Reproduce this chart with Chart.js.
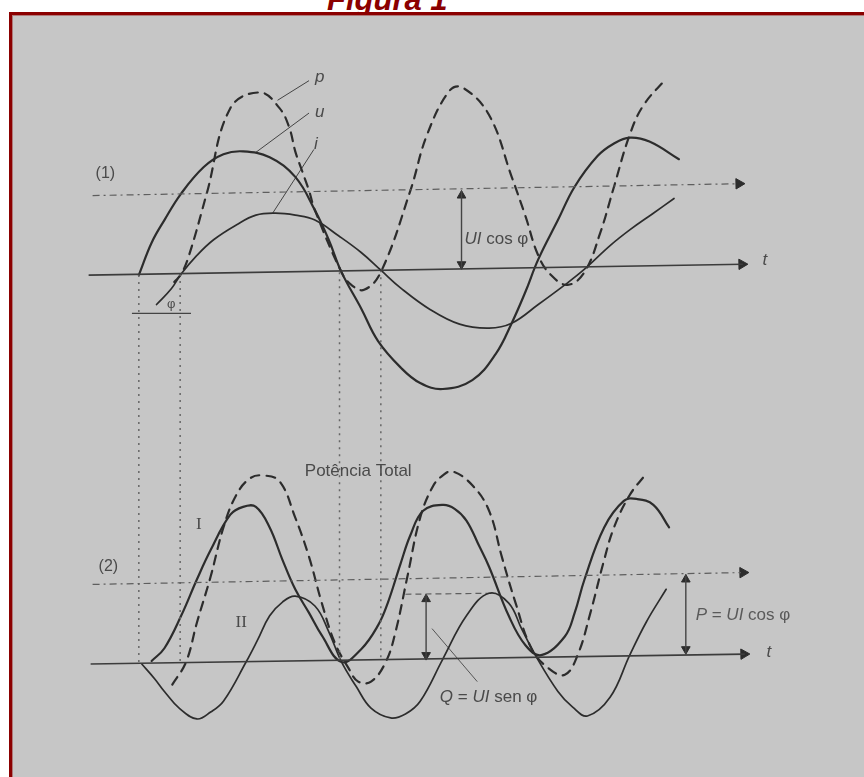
<!DOCTYPE html>
<html>
<head>
<meta charset="utf-8">
<script src="https://cdn.jsdelivr.net/npm/chart.js@4.4.1/dist/chart.umd.min.js"></script>
<style>
  html, body { margin: 0; padding: 0; background: #fff; overflow: hidden; width: 864px; height: 777px; }
  #title { position: absolute; left: 327px; top: -15px; font: italic bold 31px "Liberation Sans", Arial, sans-serif;
           line-height: 30px; color: #8b0000; white-space: nowrap; z-index: 0; }
  #frame { position: absolute; left: 9px; top: 12px; width: 900px; height: 800px;
           border-left: 3px solid #8b0000; border-top: 3px solid #8b0000; background: #c6c6c6;
           box-shadow: inset 1px 1px 0 #b07a7a; z-index: 1; }
  #wrap { position: absolute; left: 0; top: 0; width: 864px; height: 777px; z-index: 2; }
</style>
</head>
<body>
<div id="title">Figura 1</div>
<div id="frame"></div>
<div id="wrap"><canvas id="chart" width="864" height="777"></canvas></div>
<script>
// (1) voltage u, current i and instantaneous power p
const U_T = [134, 147, 160, 177, 200, 220, 240, 267, 293, 313, 327, 340, 360, 377, 400, 420, 443, 473, 497, 513, 527, 540, 560, 577, 600, 617, 633, 653, 683];
const U_V = [-3, 30, 53, 80, 107, 120, 123, 117, 97, 63, 33, 0, -37, -70, -97, -113, -119, -110, -83, -52, -20, 13, 53, 87, 118, 131, 137, 133, 115];

const I_T = [152, 167, 177, 193, 210, 233, 253, 273, 293, 313, 337, 360, 380, 400, 430, 460, 490, 513, 540, 567, 587, 613, 633, 657, 678];
const I_V = [-33, -17, -2, 17, 33, 48, 58, 60, 58, 53, 37, 20, 2, -16, -38, -53, -57, -52, -33, -13, 3, 27, 43, 60, 75];

const P_T = [170, 177, 185, 203, 227, 257, 277, 287, 293, 300, 307, 313, 340, 350, 363, 380, 410, 427, 450, 463, 490, 513, 527, 540, 553, 570, 587, 603, 617, 633, 647, 670];
const P_V = [-10, -2, 17, 80, 167, 183, 167, 147, 123, 103, 83, 63, 0, -13, -18, 0, 83, 140, 185, 188, 160, 97, 57, 17, -3, -13, 0, 40, 87, 140, 170, 197];

// (2) active part I, reactive part II and total power
const A_T = [147, 160, 177, 193, 207, 227, 240, 253, 267, 280, 293, 307, 320, 340, 360, 377, 387, 400, 410, 423, 443, 455, 467, 480, 490, 510, 527, 543, 567, 577, 587, 607, 627, 640, 657, 673];
const A_V = [0, 13, 46, 83, 113, 149, 157, 157, 136, 103, 73, 49, 26, -1, 12, 36, 59, 99, 128, 153, 159, 155, 143, 117, 96, 46, 16, 6, 25, 49, 83, 136, 163, 165, 159, 136];

const R_T = [137, 150, 160, 175, 193, 207, 220, 243, 255, 267, 280, 293, 313, 327, 340, 355, 370, 390, 405, 420, 443, 467, 490, 510, 523, 537, 560, 575, 590, 613, 633, 650, 670];
const R_V = [-3, -18, -31, -48, -59, -52, -41, -1, 22, 46, 60, 66, 56, 30, -1, -26, -48, -58, -54, -41, 2, 46, 69, 59, 33, 6, -31, -47, -56, -37, 6, 40, 73];

const S_T = [168, 182, 193, 207, 220, 233, 247, 260, 277, 293, 307, 320, 333, 347, 357, 370, 385, 395, 407, 420, 433, 443, 453, 473, 490, 503, 517, 533, 550, 567, 580, 593, 607, 617, 633, 650];
const S_V = [-24, -1, 39, 86, 136, 169, 186, 189, 183, 146, 106, 59, 19, -7, -21, -21, -1, 30, 86, 146, 178, 189, 193, 179, 153, 106, 59, 13, -7, -14, 6, 49, 103, 136, 169, 191];

// mean levels and the time instants marked by dotted lines
const MEAN_1 = [78, 90];
const MEAN_2 = [78, 90];
const Q_LEVEL = 68;
const MARK_T = [134, 176, 338, 380];

const INK = '#2c2c2c';
const GREY = '#5e5e5e';
const TEXT = '#4a4a4a';
const SANS = '"Liberation Sans", Arial, sans-serif';
const SERIF = '"Liberation Serif", "DejaVu Serif", serif';

const zip = (ts, vs) => ts.map((t, k) => ({ x: t, y: vs[k] }));

const curve = (ts, vs, axis, width, dash) => ({
  data: zip(ts, vs), yAxisID: axis, borderColor: INK, borderWidth: width,
  borderDash: dash || [], pointRadius: 0, tension: 0.4, fill: false,
  borderCapStyle: 'round', borderJoinStyle: 'round',
});

const seg = (pts, axis, width, color, dash) => ({
  data: pts.map(p => ({ x: p[0], y: p[1] })), yAxisID: axis, borderColor: color,
  borderWidth: width, borderDash: dash || [], pointRadius: 0, tension: 0, fill: false,
});

const head = (t, v, axis, rot, r) => ({
  data: [{ x: t, y: v }], yAxisID: axis, showLine: false, pointStyle: 'triangle',
  rotation: rot, pointRadius: r, backgroundColor: INK, borderColor: INK, borderWidth: 1,
});

const datasets = [
  // axes and mean levels
  seg([[83, -3], [748, 8]], 'y1', 1.6, '#3c3c3c'),
  head(747, 8, 'y1', 89, 6),
  seg([[87, MEAN_1[0]], [742, MEAN_1[1]]], 'y1', 1.2, GREY, [7, 4, 2, 4]),
  head(744, MEAN_1[1], 'y1', 89, 6),
  seg([[85, -3], [750, 7]], 'y2', 1.6, '#3c3c3c'),
  head(749, 7, 'y2', 89, 6),
  seg([[87, MEAN_2[0]], [746, MEAN_2[1]]], 'y2', 1.2, GREY, [7, 4, 2, 4]),
  head(748, MEAN_2[1], 'y2', 89, 6),
  // dotted instants from (1) down to (2)
  seg([[MARK_T[0], -3], [MARK_T[0], -399]], 'y1', 1.5, '#666', [2, 5]),
  seg([[MARK_T[1], -2], [MARK_T[1], -399]], 'y1', 1.5, '#666', [2, 5]),
  seg([[MARK_T[2], 0], [MARK_T[2], -397]], 'y1', 1.5, '#666', [2, 5]),
  seg([[MARK_T[3], 2], [MARK_T[3], -394]], 'y1', 1.5, '#666', [2, 5]),
  // curves (1)
  curve(P_T, P_V, 'y1', 2.2, [9, 7]),
  curve(U_T, U_V, 'y1', 2.2),
  curve(I_T, I_V, 'y1', 1.7),
  // curves (2)
  curve(S_T, S_V, 'y2', 2.2, [9, 7]),
  curve(A_T, A_V, 'y2', 2.2),
  curve(R_T, R_V, 'y2', 1.7),
  // leaders, phi bar
  seg([[275, 175], [307, 195]], 'y1', 1, '#444'),
  seg([[253, 122], [307, 162]], 'y1', 1, '#444'),
  seg([[270, 60], [312, 125]], 'y1', 1, '#444'),
  seg([[127, -42], [187, -42]], 'y1', 1.4, '#444'),
  seg([[432, 33], [478, -21]], 'y2', 1, '#555'),
  // UI cos phi, Q and P arrows
  seg([[462, 83], [462, 3]], 'y1', 1.4, '#444'),
  head(462, 78, 'y1', 0, 5),
  head(462, 8, 'y1', 180, 5),
  seg([[405, Q_LEVEL], [497, Q_LEVEL + 1]], 'y2', 1.2, GREY, [6, 4]),
  seg([[426, Q_LEVEL], [426, 1]], 'y2', 1.4, '#444'),
  head(426, Q_LEVEL - 5, 'y2', 0, 5),
  head(426, 6, 'y2', 180, 5),
  seg([[690, 88], [690, 7]], 'y2', 1.4, '#444'),
  head(690, 83, 'y2', 0, 5),
  head(690, 12, 'y2', 180, 5),
];

const LABELS = [
  { runs: [['(1)', 0]], t: 100, v: 100, axis: 'y1', size: 16, align: 'center' },
  { runs: [['(2)', 0]], t: 103, v: 96, axis: 'y2', size: 16, align: 'center' },
  { runs: [['p', 1]], t: 313, v: 198, axis: 'y1', size: 17 },
  { runs: [['u', 1]], t: 313, v: 163, axis: 'y1', size: 17 },
  { runs: [['i', 1]], t: 312, v: 130, axis: 'y1', size: 17 },
  { runs: [['φ', 0]], t: 167, v: -33, axis: 'y1', size: 13, align: 'center' },
  { runs: [['UI', 1], [' cos φ', 0]], t: 465, v: 33, axis: 'y1', size: 17 },
  { runs: [['t', 1]], t: 768, v: 12, axis: 'y1', size: 17 },
  { runs: [['Potência Total', 0]], t: 357, v: 193, axis: 'y2', size: 17, align: 'center' },
  { runs: [['I', 0]], t: 195, v: 139, axis: 'y2', size: 17, align: 'center', family: SERIF },
  { runs: [['II', 0]], t: 238, v: 39, axis: 'y2', size: 17, align: 'center', family: SERIF },
  { runs: [['P', 1], [' = ', 0], ['UI', 1], [' cos φ', 0]], t: 700, v: 47, axis: 'y2', size: 17, color: '#5a5a5a' },
  { runs: [['Q', 1], [' = ', 0], ['UI', 1], [' sen φ', 0]], t: 440, v: -37, axis: 'y2', size: 17 },
  { runs: [['t', 1]], t: 772, v: 9, axis: 'y2', size: 17 },
];

const labelPlugin = {
  id: 'figureLabels',
  afterDatasetsDraw(chart) {
    const ctx = chart.ctx;
    LABELS.forEach(l => {
      const px = chart.scales.x.getPixelForValue(l.t);
      const py = chart.scales[l.axis].getPixelForValue(l.v);
      const fontOf = r => (r[1] ? 'italic ' : '') + l.size + 'px ' + (l.family || SANS);
      ctx.save();
      ctx.fillStyle = l.color || TEXT;
      ctx.textBaseline = 'middle';
      let w = 0;
      l.runs.forEach(r => { ctx.font = fontOf(r); w += ctx.measureText(r[0]).width; });
      let x = l.align === 'center' ? px - w / 2 : px;
      l.runs.forEach(r => {
        ctx.font = fontOf(r);
        ctx.fillText(r[0], x, py);
        x += ctx.measureText(r[0]).width;
      });
      ctx.restore();
    });
  },
};

new Chart(document.getElementById('chart'), {
  type: 'line',
  data: { datasets },
  options: {
    responsive: false,
    animation: false,
    devicePixelRatio: 1,
    events: [],
    layout: { padding: 0 },
    plugins: { legend: { display: false }, tooltip: { enabled: false } },
    scales: {
      x: { type: 'linear', min: 0, max: 864, display: false },
      y1: { type: 'linear', min: -507, max: 270, display: false },
      y2: { type: 'linear', min: -111, max: 666, display: false },
    },
  },
  plugins: [labelPlugin],
});
</script>
</body>
</html>
